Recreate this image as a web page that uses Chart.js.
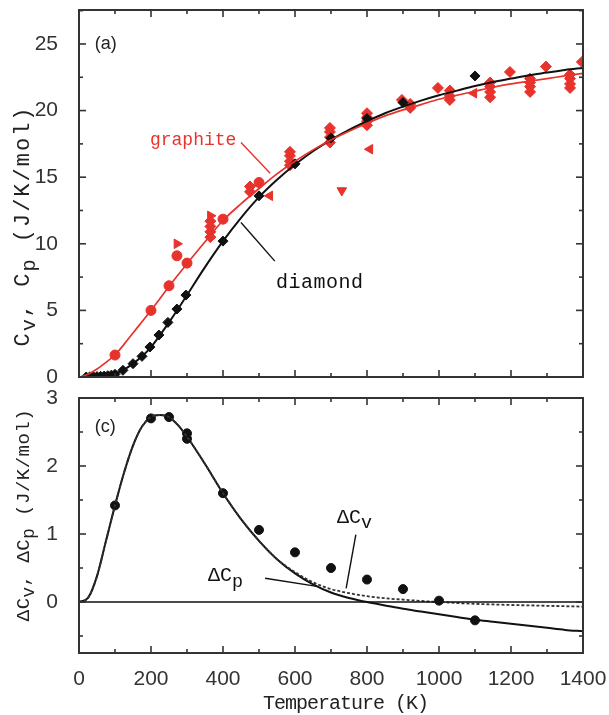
<!DOCTYPE html>
<html>
<head>
<meta charset="utf-8">
<script src="https://cdn.jsdelivr.net/npm/chart.js@4.4.1/dist/chart.umd.min.js"></script>
<style>
  html, body { margin: 0; padding: 0; background: #fff; }
  #wrap { position: relative; width: 609px; height: 715px; }
  #wrap canvas { position: absolute; left: 0; }
  #cpChart { top: 0; }
  #dcChart { top: 390px; }
</style>
</head>
<body>
<div id="wrap">
  <canvas id="cpChart" width="609" height="390"></canvas>
  <canvas id="dcChart" width="609" height="325"></canvas>
</div>
<script>
// temperatures (K) where the fitted curves are sampled
const curveT = [0, 25, 50, 75, 100, 125, 150, 175, 200, 225, 250, 275, 300, 350, 400, 450, 500, 550, 600, 650, 700, 750, 800, 850, 900, 950, 1000, 1050, 1100, 1150, 1200, 1250, 1300, 1350, 1400];

// (a) heat capacity curves, J/K/mol
const diamondCurve = [0, 0.01, 0.03, 0.1, 0.25, 0.55, 1.0, 1.55, 2.25, 3.15, 4.1, 5.1, 6.15, 8.25, 10.2, 11.95, 13.5, 14.8, 15.95, 16.95, 17.8, 18.55, 19.2, 19.8, 20.3, 20.75, 21.15, 21.5, 21.85, 22.15, 22.4, 22.65, 22.85, 23.05, 23.2];
const graphiteCurve = [0, 0.2, 0.6, 1.1, 1.65, 2.45, 3.3, 4.15, 5.0, 5.9, 6.8, 7.65, 8.5, 10.15, 11.75, 13.0, 14.15, 15.25, 16.2, 17.05, 17.8, 18.45, 19.05, 19.6, 20.05, 20.45, 20.85, 21.15, 21.45, 21.75, 22.0, 22.2, 22.4, 22.6, 22.8];

// (a) measured points, diamond
const diamondT = [20, 30, 40, 50, 60, 70, 80, 90, 100, 122, 150, 175, 197, 222, 247, 272, 297, 400, 500, 600, 700, 800, 900, 1100];
const diamondCv = [0.0, 0.01, 0.02, 0.03, 0.05, 0.07, 0.1, 0.14, 0.2, 0.5, 1.0, 1.55, 2.25, 3.15, 4.1, 5.1, 6.15, 10.2, 13.6, 16.0, 17.95, 19.4, 20.6, 22.6];

// (a) measured points, graphite (grouped by marker)
const graphiteCircleT = [100, 200, 250, 272, 300, 400, 500];
const graphiteCircleCp = [1.65, 5.0, 6.85, 9.1, 8.55, 11.85, 14.6];
const graphiteRightT = [272, 365];
const graphiteRightCp = [10.0, 12.1];
const graphiteLeftT = [530, 808, 1097];
const graphiteLeftCp = [13.6, 17.1, 21.3];
const graphiteDownT = [730];
const graphiteDownCp = [14.0];
const graphiteDiamT = [365, 365, 365, 365, 475, 475, 586, 586, 586, 586, 697, 697, 697, 697, 800, 800, 800, 800, 897, 920, 920, 997, 1030, 1030, 1030, 1142, 1142, 1142, 1142, 1197, 1253, 1253, 1253, 1253, 1297, 1364, 1364, 1364, 1364, 1397];
const graphiteDiamCp = [10.5, 10.9, 11.3, 11.7, 13.9, 14.3, 15.9, 16.2, 16.6, 16.9, 17.6, 18.0, 18.4, 18.7, 18.9, 19.2, 19.5, 19.8, 20.8, 20.2, 20.5, 21.7, 20.8, 21.1, 21.5, 21.0, 21.4, 21.8, 22.1, 22.9, 21.4, 21.8, 22.1, 22.4, 23.3, 21.7, 22.0, 22.4, 22.7, 23.65];

// (c) graphite minus diamond
const deltaCpCurve = [0, 0.06, 0.38, 0.9, 1.42, 1.9, 2.3, 2.58, 2.72, 2.75, 2.72, 2.6, 2.43, 2.03, 1.6, 1.22, 0.9, 0.63, 0.42, 0.26, 0.14, 0.06, 0.0, -0.05, -0.1, -0.14, -0.18, -0.22, -0.26, -0.29, -0.32, -0.35, -0.38, -0.41, -0.43];
const deltaCvCurve = [0, 0.06, 0.38, 0.9, 1.42, 1.9, 2.3, 2.58, 2.72, 2.75, 2.72, 2.6, 2.43, 2.03, 1.6, 1.22, 0.9, 0.63, 0.44, 0.29, 0.19, 0.13, 0.085, 0.055, 0.035, 0.015, 0.0, -0.015, -0.027, -0.036, -0.044, -0.05, -0.056, -0.062, -0.068];
const deltaT = [100, 200, 250, 300, 300, 400, 500, 600, 700, 800, 900, 1000, 1100];
const deltaC = [1.42, 2.7, 2.72, 2.48, 2.4, 1.6, 1.06, 0.73, 0.5, 0.33, 0.19, 0.02, -0.27];
const zeroT = [0, 1400];
const zeroC = [0, 0];

const xTickLabels = ['0', '200', '400', '600', '800', '1000', '1200', '1400'];

const RED = '#e8322c';
const INK = '#111';
const LABEL_FONT = '"Liberation Mono", monospace';
const TICK_FONT = '"Liberation Sans", Arial, sans-serif';

function pts(xs, ys) {
  return xs.map((x, i) => ({ x: x, y: ys[i] }));
}

function curve(xs, ys, color, width, dash) {
  return {
    data: pts(xs, ys), showLine: true, pointRadius: 0, borderColor: color,
    borderWidth: width, borderDash: dash || [], cubicInterpolationMode: 'monotone', fill: false
  };
}

function marks(xs, ys, color, style, radius, rotation) {
  return {
    data: pts(xs, ys), showLine: false, pointStyle: style, pointRadius: radius,
    pointRotation: rotation || 0, backgroundColor: color, borderColor: color, borderWidth: 1
  };
}

// text with lowered v / p subscripts, drawn from a list of pieces
function drawPieces(ctx, pieces, size, align, spacing) {
  ctx.letterSpacing = (spacing || 0) + 'px';
  let w = 0;
  pieces.forEach(p => {
    ctx.font = (p.sub ? size * 0.92 : size) + 'px ' + LABEL_FONT;
    p.w = ctx.measureText(p.t).width;
    w += p.w;
  });
  let cx = align === 'center' ? -w / 2 : 0;
  pieces.forEach(p => {
    ctx.font = (p.sub ? size * 0.92 : size) + 'px ' + LABEL_FONT;
    ctx.fillText(p.t, cx, p.sub ? size * 0.28 : 0);
    cx += p.w;
  });
  ctx.letterSpacing = '0px';
}

// keep the plot box exactly where the axis sizes put it
function noEdgePadding(s) {
  s.paddingTop = 0; s.paddingBottom = 0; s.paddingLeft = 0; s.paddingRight = 0;
}

// box with inward ticks on all four sides, plus labels and leader lines
const framePlugin = {
  id: 'frame',
  afterDraw(chart) {
    const o = chart.options.plugins.frame;
    const { ctx, chartArea: a } = chart;
    const x = chart.scales.x, y = chart.scales.y;
    ctx.save();
    ctx.strokeStyle = '#333';
    ctx.lineWidth = 1.6;
    const seg = (x1, y1, x2, y2) => { ctx.beginPath(); ctx.moveTo(x1, y1); ctx.lineTo(x2, y2); ctx.stroke(); };
    for (let t = 0; t <= 1400; t += 100) {
      const px = x.getPixelForValue(t);
      const len = t % 200 === 0 ? 7 : 4;
      seg(px, a.bottom, px, a.bottom - len);
      seg(px, a.top, px, a.top + len);
    }
    for (let v = o.yFrom; v <= y.max + 1e-9; v += o.yMinor) {
      const py = y.getPixelForValue(v);
      const major = Math.abs(v / o.yMajor - Math.round(v / o.yMajor)) < 1e-6;
      const len = major ? 7 : 4;
      seg(a.left, py, a.left + len, py);
      seg(a.right, py, a.right - len, py);
    }
    ctx.lineWidth = 2;
    ctx.strokeRect(a.left, a.top, a.right - a.left, a.bottom - a.top);

    // leader lines
    ctx.lineWidth = 1.4;
    o.leaders.forEach(l => {
      ctx.strokeStyle = l.color;
      seg(x.getPixelForValue(l.from[0]), y.getPixelForValue(l.from[1]),
          x.getPixelForValue(l.to[0]), y.getPixelForValue(l.to[1]));
    });

    // text labels inside the plot
    ctx.textBaseline = 'middle';
    o.notes.forEach(n => {
      ctx.save();
      ctx.fillStyle = n.color;
      ctx.translate(x.getPixelForValue(n.at[0]), y.getPixelForValue(n.at[1]));
      if (n.font) {
        ctx.font = n.font;
        ctx.fillText(n.pieces[0].t, 0, 0);
      } else {
        drawPieces(ctx, n.pieces, n.size, 'left', n.spacing);
      }
      ctx.restore();
    });

    // x-axis title under the tick labels
    if (o.xTitle) {
      ctx.save();
      ctx.fillStyle = '#222';
      ctx.translate(x.getPixelForValue(o.xTitle.at), a.bottom + o.xTitle.below);
      drawPieces(ctx, [{ t: o.xTitle.text }], o.xTitle.size, 'center', o.xTitle.spacing);
      ctx.restore();
    }

    // rotated y-axis title
    ctx.fillStyle = '#222';
    ctx.translate(o.titleX, o.titleY);
    ctx.rotate(-Math.PI / 2);
    drawPieces(ctx, o.title, o.titleSize, 'center', o.titleSpacing);
    ctx.restore();
  }
};

const baseOptions = {
  responsive: false,
  animation: false,
  events: [],
  plugins: { legend: { display: false }, tooltip: { enabled: false } }
};

new Chart(document.getElementById('cpChart'), {
  type: 'scatter',
  data: {
    datasets: [
      curve(curveT, graphiteCurve, RED, 1.7),
      curve(curveT, diamondCurve, INK, 2),
      marks(diamondT, diamondCv, INK, 'rectRot', 5),
      marks(graphiteDiamT, graphiteDiamCp, RED, 'rectRot', 5.5),
      marks(graphiteCircleT, graphiteCircleCp, RED, 'circle', 5),
      marks(graphiteRightT, graphiteRightCp, RED, 'triangle', 5.5, 90),
      marks(graphiteLeftT, graphiteLeftCp, RED, 'triangle', 5.5, -90),
      marks(graphiteDownT, graphiteDownCp, RED, 'triangle', 5.5, 180)
    ]
  },
  options: Object.assign({}, baseOptions, {
    layout: { padding: { top: 10, right: 26, left: 0, bottom: 0 } },
    plugins: Object.assign({}, baseOptions.plugins, {
      frame: {
        yFrom: 0, yMinor: 2.5, yMajor: 5,
        titleX: 23, titleY: 226, titleSize: 22, titleSpacing: 2,
        title: [{ t: 'C' }, { t: 'v', sub: true }, { t: ', C' }, { t: 'p', sub: true }, { t: ' (J/K/mol)' }],
        leaders: [
          { from: [450, 17.6], to: [531, 15.3], color: RED },
          { from: [450, 11.6], to: [544, 8.7], color: INK }
        ],
        notes: [
          { at: [44, 25.0], pieces: [{ t: '(a)' }], font: '18px ' + TICK_FONT, color: '#222' },
          { at: [197, 17.8], pieces: [{ t: 'graphite' }], size: 18, color: RED },
          { at: [547, 7.1], pieces: [{ t: 'diamond' }], size: 20, spacing: 0.5, color: INK }
        ]
      }
    }),
    scales: {
      x: {
        type: 'linear', min: 0, max: 1400,
        ticks: { display: false },
        grid: { display: false }, border: { display: false },
        afterFit: s => { s.height = 13; noEdgePadding(s); }
      },
      y: {
        min: 0, max: 27.55,
        ticks: { stepSize: 5, includeBounds: false, padding: 13, color: '#333', font: { family: TICK_FONT, size: 21 } },
        grid: { display: false }, border: { display: false },
        afterFit: s => { s.width = 79; noEdgePadding(s); }
      }
    }
  }),
  plugins: [framePlugin]
});

new Chart(document.getElementById('dcChart'), {
  type: 'scatter',
  data: {
    datasets: [
      curve(zeroT, zeroC, INK, 1.6),
      curve(curveT, deltaCvCurve, '#333', 1.8, [3, 2]),
      curve(curveT, deltaCpCurve, INK, 2),
      marks(deltaT, deltaC, INK, 'circle', 4.5)
    ]
  },
  options: Object.assign({}, baseOptions, {
    layout: { padding: { top: 8, right: 26, left: 0, bottom: 0 } },
    plugins: Object.assign({}, baseOptions.plugins, {
      frame: {
        yFrom: -0.5, yMinor: 0.5, yMajor: 1,
        titleX: 24, titleY: 125, titleSize: 19, titleSpacing: 0.5,
        title: [{ t: '\u0394C' }, { t: 'v', sub: true }, { t: ', \u0394C' }, { t: 'p', sub: true }, { t: ' (J/K/mol)' }],
        xTitle: { text: 'Temperature (K)', at: 740, below: 51, size: 20, spacing: -1 },
        leaders: [
          { from: [769, 0.99], to: [742, 0.2], color: INK },
          { from: [517, 0.35], to: [661, 0.23], color: INK }
        ],
        notes: [
          { at: [44, 2.57], pieces: [{ t: '(c)' }], font: '18px ' + TICK_FONT, color: '#222' },
          { at: [717, 1.24], pieces: [{ t: '\u0394C' }, { t: 'v', sub: true }], size: 20, color: INK },
          { at: [358, 0.38], pieces: [{ t: '\u0394C' }, { t: 'p', sub: true }], size: 20, color: INK }
        ]
      }
    }),
    scales: {
      x: {
        type: 'linear', min: 0, max: 1400,
        ticks: {
          stepSize: 200, padding: 6, maxRotation: 0, color: '#333',
          font: { family: TICK_FONT, size: 21 },
          callback: (v) => xTickLabels[v / 200]
        },
        grid: { display: false }, border: { display: false },
        afterFit: s => { s.height = 62; noEdgePadding(s); }
      },
      y: {
        min: -0.75, max: 3.0,
        ticks: { stepSize: 1, includeBounds: false, padding: 13, color: '#333', font: { family: TICK_FONT, size: 21 } },
        grid: { display: false }, border: { display: false },
        afterFit: s => { s.width = 79; noEdgePadding(s); }
      }
    }
  }),
  plugins: [framePlugin]
});
</script>
</body>
</html>
